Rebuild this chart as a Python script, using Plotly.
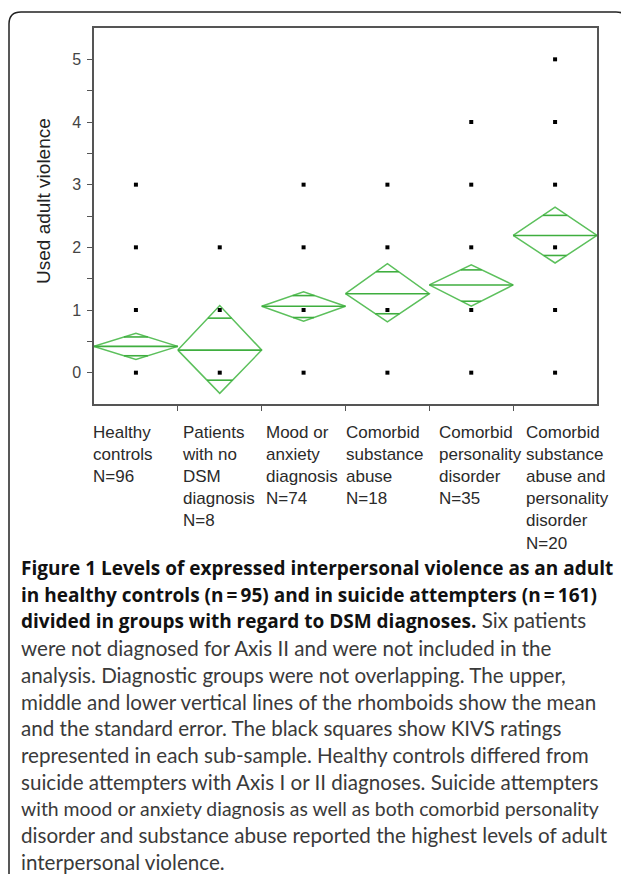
import plotly.graph_objects as go

# ---------------- data ----------------
groups = ["Healthy<br>controls<br>N=96",
          "Patients<br>with no<br>DSM<br>diagnosis<br>N=8",
          "Mood or<br>anxiety<br>diagnosis<br>N=74",
          "Comorbid<br>substance<br>abuse<br>N=18",
          "Comorbid<br>personality<br>disorder<br>N=35",
          "Comorbid<br>substance<br>abuse and<br>personality<br>disorder<br>N=20"]
ratings = [[0, 1, 2, 3], [0, 1, 2], [0, 1, 2, 3], [0, 1, 2, 3],
           [0, 1, 2, 3, 4], [0, 1, 2, 3, 4, 5]]
means = [0.42, 0.36, 1.06, 1.26, 1.40, 2.19]
ci_hi = [0.63, 1.07, 1.29, 1.74, 1.72, 2.64]
ci_lo = [0.21, -0.33, 0.82, 0.81, 1.06, 1.75]
se_hi = [0.57, 0.87, 1.23, 1.61, 1.64, 2.51]
se_lo = [0.27, -0.12, 0.88, 0.94, 1.14, 1.87]
y_ticks = [0, 1, 2, 3, 4, 5]
y_title = "Used adult violence"
BOLD = "<span style='font-family:Open Sans;font-weight:bold;font-size:19px;color:#111'>"
caption_lines = [
    BOLD + "Figure 1 Levels of expressed interpersonal violence as an adult</span>",
    BOLD + "in healthy controls (n\u2009=\u200995) and in suicide attempters (n\u2009=\u2009161)</span>",
    BOLD + "divided in groups with regard to DSM diagnoses.</span> Six patients",
    "were not diagnosed for Axis II and were not included in the",
    "analysis. Diagnostic groups were not overlapping. The upper,",
    "middle and lower vertical lines of the rhomboids show the mean",
    "and the standard error. The black squares show KIVS ratings",
    "represented in each sub-sample. Healthy controls differed from",
    "suicide attempters with Axis I or II diagnoses. Suicide attempters",
    "with mood or anxiety diagnosis as well as both comorbid personality",
    "disorder and substance abuse reported the highest levels of adult",
    "interpersonal violence.",
]

# ---------------- layout geometry ----------------
OFF = 8  # browser body margin
W, H = 629 - OFF, 874 - OFF
L, T = 94 - OFF, 28 - OFF
R = W - (597 - OFF)
B = H - (404 - OFF)
PW, PH = W - L - R, H - T - B


def px(xp):
    return (xp - OFF - L) / PW


def py(yp):
    return (H - B - (yp - OFF)) / PH


label_shift = [-3, 2, 2, -2, 8, 11]
caption_sizes = [20.6] * 9 + [19.4] + [20.6] * 2
GREEN = "#5cc05c"
GREEN_D = "#3fae3f"
AXC = "#555555"
ARIAL = "Liberation Sans, Arial, sans-serif"
CAP = "Lato, Open Sans, sans-serif"

fig = go.Figure()

# diamonds
dx, dy = [], []
lx, ly = [], []
for i, (m, hi, lo, sh, sl) in enumerate(zip(means, ci_hi, ci_lo, se_hi, se_lo)):
    dx += [i - 0.5, i, i + 0.5, i, i - 0.5, None]
    dy += [m, hi, m, lo, m, None]
    lx += [i - 0.5, i + 0.5, None]
    ly += [m, m, None]
    hw = 0.5 * (hi - sh) / (hi - m)
    lx += [i - hw, i + hw, None]
    ly += [sh, sh, None]
    hw = 0.5 * (sl - lo) / (m - lo)
    lx += [i - hw, i + hw, None]
    ly += [sl, sl, None]

fig.add_trace(go.Scatter(x=dx, y=dy, mode="lines",
                         line=dict(color=GREEN, width=1.5), hoverinfo="skip",
                         showlegend=False))
fig.add_trace(go.Scatter(x=lx, y=ly, mode="lines",
                         line=dict(color=GREEN_D, width=1.6), hoverinfo="skip",
                         showlegend=False))

# rating squares
sx, sy = [], []
for i, r in enumerate(ratings):
    sx += [i] * len(r)
    sy += r
fig.add_trace(go.Scatter(x=sx, y=sy, mode="markers",
                         marker=dict(symbol="square", size=4, color="black"),
                         showlegend=False))

fig.update_layout(
    width=W, height=H,
    margin=dict(l=L, r=R, t=T, b=B),
    paper_bgcolor="white", plot_bgcolor="white",
    showlegend=False,
    font=dict(family=ARIAL, color="#333"),
)
fig.update_xaxes(range=[-0.5, 5.5], showgrid=False, zeroline=False,
                 showline=True, mirror=True, linecolor=AXC, linewidth=1.5,
                 tickvals=[0.5, 1.5, 2.5, 3.5, 4.5], ticks="outside",
                 ticklen=5, tickcolor=AXC, tickwidth=1.2, showticklabels=False)
fig.update_yaxes(range=[-0.5, 5.5], showgrid=False, zeroline=False,
                 showline=True, mirror=True, linecolor=AXC, linewidth=1.5,
                 tickvals=y_ticks, ticks="outside", ticklen=5, tickcolor=AXC,
                 tickwidth=1.2, ticklabelstandoff=3,
                 tickfont=dict(size=16, color="#444", family=ARIAL),
                 minor=dict(tickvals=[0.5, 1.5, 2.5, 3.5, 4.5], ticks="outside",
                            ticklen=5, tickcolor=AXC, tickwidth=1.2))

ann = []
ann.append(dict(text=y_title, textangle=-90, x=px(43), y=py(201),
                xref="paper", yref="paper", showarrow=False,
                xanchor="center", yanchor="middle",
                font=dict(size=19, color="#222", family=ARIAL)))
for i, g in enumerate(groups):
    ann.append(dict(text=g, x=i - 0.5, xref="x", y=py(421), yref="paper",
                    xanchor="left", yanchor="top", align="left",
                    xshift=label_shift[i], showarrow=False,
                    font=dict(size=17, color="#2a2a2a", family=ARIAL)))
for k, line in enumerate(caption_lines):
    ann.append(dict(text=line, x=px(19), xref="paper",
                    y=py(568 + k * 26.7), yref="paper",
                    xanchor="left", yanchor="middle", align="left",
                    showarrow=False,
                    font=dict(size=caption_sizes[k], color="#3a3a3a",
                              family=CAP)))
fig.update_layout(annotations=ann)

# rounded frame
path = (f"M {px(9)},{py(874)} L {px(9)},{py(24)} "
        f"Q {px(9)},{py(12)} {px(21)},{py(12)} L {px(616)},{py(12)} "
        f"Q {px(628)},{py(12)} {px(628)},{py(24)} L {px(628)},{py(34)}")
fig.add_shape(type="path", path=path, xref="paper", yref="paper",
              line=dict(color="#222", width=1.5))

fig.write_html("out.html")
